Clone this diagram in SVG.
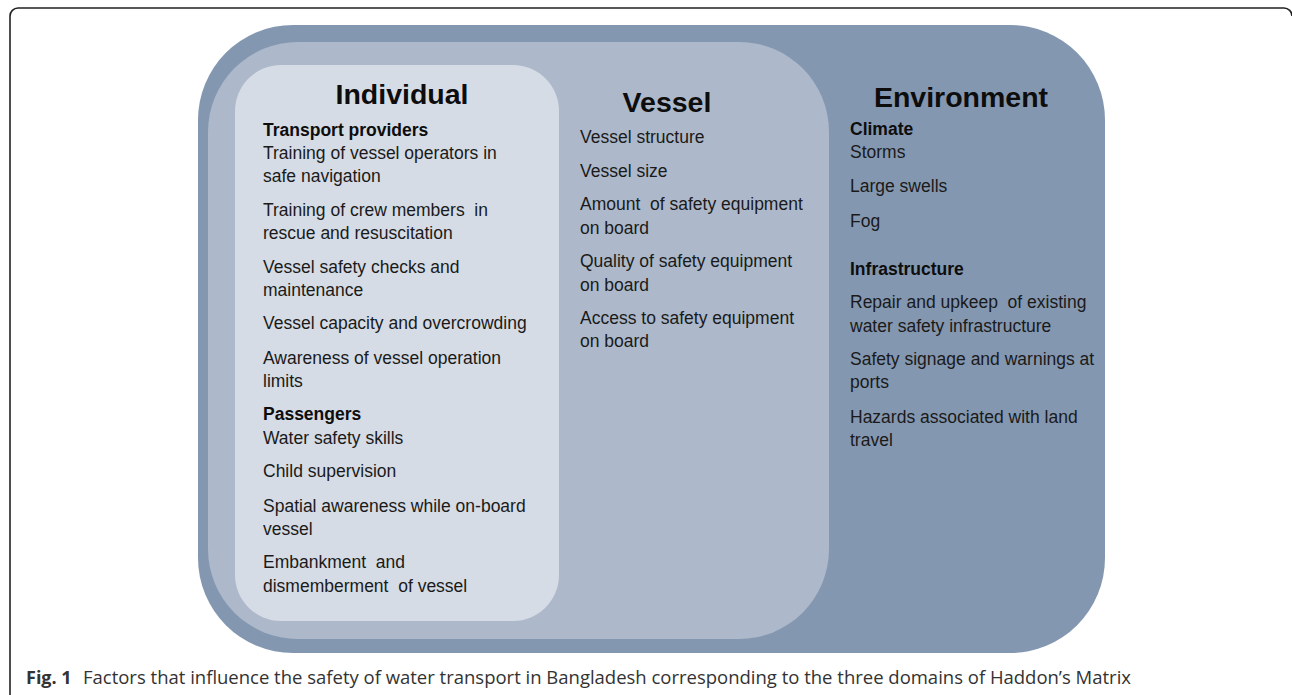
<svg xmlns="http://www.w3.org/2000/svg" width="1292" height="695" viewBox="0 0 1292 695">
<style>
.t{font-family:"Liberation Sans",Arial,sans-serif;font-size:17.5px;fill:#1a1a1a;white-space:pre}
.b{font-weight:bold;fill:#0d0d0d}
.h{font-family:"Liberation Sans",Arial,sans-serif;font-size:28.5px;font-weight:bold;fill:#0d0d0d;text-anchor:middle}
.cap{font-family:"Open Sans","Liberation Sans",sans-serif;font-size:18px;fill:#333}
</style>
<rect width="1292" height="695" fill="#fff"/>
<path d="M10,695 V16 A8,8 0 0 1 18,8 H1284 A8,8 0 0 1 1292,16" fill="none" stroke="#222" stroke-width="1.6"/>
<g id="environment">
<rect x="198" y="25" width="907" height="628" rx="95" ry="95" fill="#8497B0"/>
<text class="h" x="961" y="107">Environment</text>
<text class="t b" x="850" y="135">Climate</text>
<text class="t" x="850" y="158">Storms</text>
<text class="t" x="850" y="192">Large swells</text>
<text class="t" x="850" y="227">Fog</text>
<text class="t b" x="850" y="275">Infrastructure</text>
<text class="t" x="850" y="308" xml:space="preserve">Repair and upkeep  of existing</text>
<text class="t" x="850" y="332">water safety infrastructure</text>
<text class="t" x="850" y="365">Safety signage and warnings at</text>
<text class="t" x="850" y="388">ports</text>
<text class="t" x="850" y="423">Hazards associated with land</text>
<text class="t" x="850" y="446">travel</text>
</g>
<g id="vessel">
<rect x="208" y="42" width="621" height="597" rx="90" ry="90" fill="#ADB9CA"/>
<text class="h" x="667" y="112">Vessel</text>
<text class="t" x="580" y="143">Vessel structure</text>
<text class="t" x="580" y="177">Vessel size</text>
<text class="t" x="580" y="210" xml:space="preserve">Amount  of safety equipment</text>
<text class="t" x="580" y="234">on board</text>
<text class="t" x="580" y="267">Quality of safety equipment</text>
<text class="t" x="580" y="291">on board</text>
<text class="t" x="580" y="324">Access to safety equipment</text>
<text class="t" x="580" y="347">on board</text>
</g>
<g id="individual">
<rect x="235" y="65" width="324" height="556" rx="46" ry="46" fill="#D6DCE5"/>
<text class="h" x="402" y="104">Individual</text>
<text class="t b" x="263" y="136">Transport providers</text>
<text class="t" x="263" y="159">Training of vessel operators in</text>
<text class="t" x="263" y="182">safe navigation</text>
<text class="t" x="263" y="216" xml:space="preserve">Training of crew members  in</text>
<text class="t" x="263" y="239">rescue and resuscitation</text>
<text class="t" x="263" y="273">Vessel safety checks and</text>
<text class="t" x="263" y="296">maintenance</text>
<text class="t" x="263" y="329">Vessel capacity and overcrowding</text>
<text class="t" x="263" y="364">Awareness of vessel operation</text>
<text class="t" x="263" y="387">limits</text>
<text class="t b" x="263" y="420">Passengers</text>
<text class="t" x="263" y="444">Water safety skills</text>
<text class="t" x="263" y="477">Child supervision</text>
<text class="t" x="263" y="512">Spatial awareness while on-board</text>
<text class="t" x="263" y="535">vessel</text>
<text class="t" x="263" y="568" xml:space="preserve">Embankment  and</text>
<text class="t" x="263" y="592" xml:space="preserve">dismemberment  of vessel</text>
</g>
<g id="connectors"/>
<g id="caption">
<text class="cap" x="26" y="684" font-weight="bold" fill="#222">Fig. 1</text>
<text class="cap" x="83" y="684" textLength="1048" lengthAdjust="spacingAndGlyphs">Factors that influence the safety of water transport in Bangladesh corresponding to the three domains of Haddon’s Matrix</text>
</g>
</svg>
